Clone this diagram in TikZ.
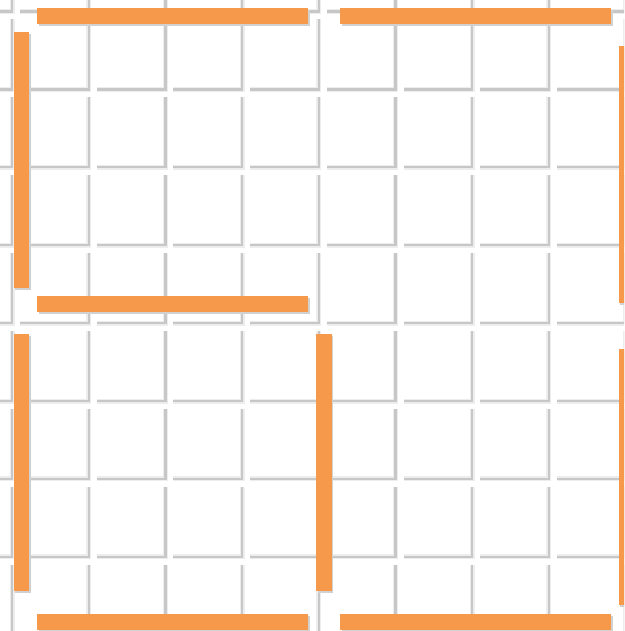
\documentclass[tikz,border=0pt]{standalone}
\definecolor{matchorange}{RGB}{247,153,74}
\tikzset{
  cellhalo/.style={line width=5pt,black!7},
  cellline/.style={line width=2.4pt,black!22},
  stick/.style={fill=matchorange},
  stickshadow/.style={fill=black!18}
}
\begin{document}
\begin{tikzpicture}[x=1pt,y=-1pt]
  \useasboundingbox (0,0) rectangle (624,631);
  \clip (0,0) rectangle (624,631);
  % paper
  \fill[white] (0,0) rectangle (624,631);
  % grid cells (shadow on right and bottom edge)
  \foreach \i in {-1,...,7} {
    \foreach \j in {-1,...,7} {
      \pgfmathsetmacro\xl{12+76.7*\i}
      \pgfmathsetmacro\xr{12+76.7*(\i+1)}
      \pgfmathsetmacro\yt{11.5+77.9*\j}
      \pgfmathsetmacro\yb{11.5+77.9*(\j+1)}
      \draw[cellhalo] (\xr,\yt+8) -- (\xr,\yb) -- (\xl+8,\yb);
      \draw[cellline] (\xr,\yt+8) -- (\xr,\yb) -- (\xl+8,\yb);
    }
  }
  % matchsticks
  \foreach \xa/\ya/\xb/\yb in {37/8.5/308/24, 340/8.5/611/24, 13.5/32/29/288,
      37/295.5/308/311.5, 618.5/46.5/630/303, 13.5/333.5/29/591,
      316/334/331.5/591, 618.5/349/630/605, 37/613.5/308/629.5, 340/613.5/611/629.5} {
    \fill[stickshadow] (\xa+1.5,\ya+2) rectangle (\xb+1.5,\yb+2);
    \fill[stick] (\xa,\ya) rectangle (\xb,\yb);
  }
\end{tikzpicture}
\end{document}
